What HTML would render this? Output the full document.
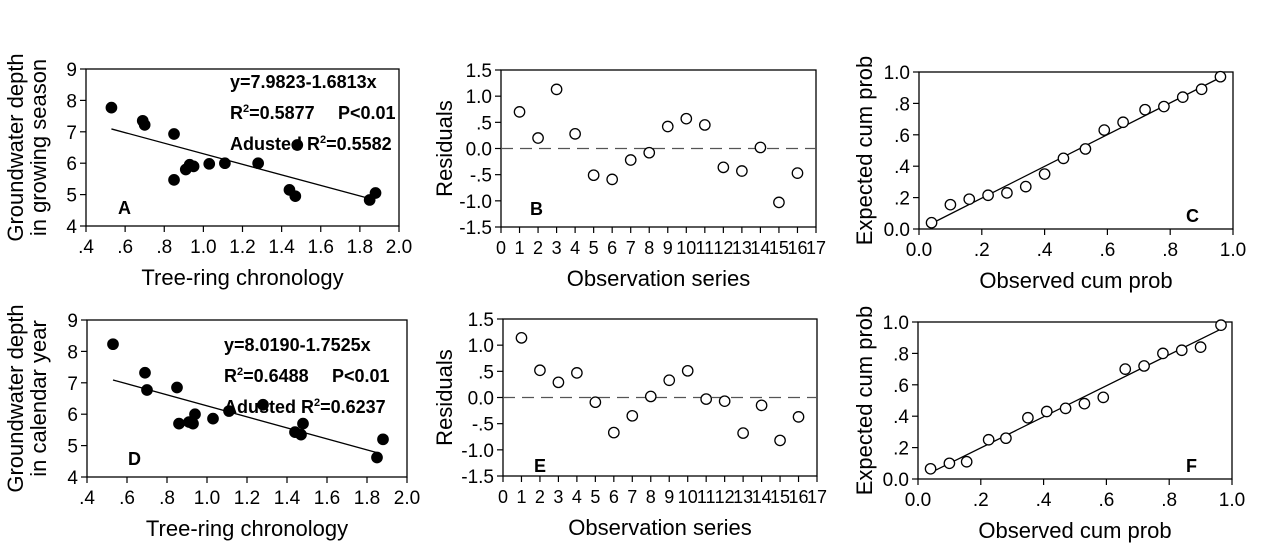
<!DOCTYPE html>
<html><head><meta charset="utf-8"><style>
html,body{margin:0;padding:0;background:#fff}
svg{display:block;font-family:"Liberation Sans",Arial,sans-serif}
</style></head><body>
<svg id="fig" width="1269" height="546" viewBox="0 0 1269 546"></svg>
<script>
// Panel A / D data (tree-ring vs groundwater)
const ringA = [0.53,0.69,0.70,0.85,0.85,0.91,0.93,0.95,1.03,1.11,1.28,1.44,1.47,1.48,1.85,1.88];
const depthA = [7.77,7.35,7.22,6.93,5.47,5.80,5.95,5.90,5.98,6.00,6.00,5.15,4.95,6.58,4.83,5.05];
const ringD = [0.53,0.69,0.70,0.85,0.86,0.91,0.93,0.94,1.03,1.11,1.28,1.44,1.47,1.48,1.85,1.88];
const depthD = [8.23,7.32,6.77,6.85,5.70,5.75,5.70,6.00,5.86,6.10,6.30,5.43,5.35,5.70,4.62,5.20];
const fitA = [7.9823,-1.6813];
const fitD = [8.0190,-1.7525];
// Residuals
const obsSeries = [1,2,3,4,5,6,7,8,9,10,11,12,13,14,15,16];
const residB = [0.70,0.20,1.13,0.28,-0.51,-0.59,-0.22,-0.08,0.42,0.57,0.45,-0.36,-0.43,0.02,-1.03,-0.47];
const residE = [1.14,0.52,0.29,0.47,-0.09,-0.67,-0.35,0.02,0.33,0.51,-0.03,-0.07,-0.68,-0.15,-0.82,-0.37];
// P-P plots
const obsC = [0.04,0.10,0.16,0.22,0.28,0.34,0.40,0.46,0.53,0.59,0.65,0.72,0.78,0.84,0.90,0.96];
const expC = [0.04,0.155,0.19,0.215,0.23,0.27,0.35,0.45,0.51,0.63,0.68,0.76,0.78,0.84,0.89,0.97];
const obsF = [0.04,0.10,0.155,0.225,0.28,0.35,0.41,0.47,0.53,0.59,0.66,0.72,0.78,0.84,0.90,0.965];
const expF = [0.065,0.10,0.11,0.25,0.26,0.39,0.43,0.45,0.48,0.52,0.70,0.72,0.80,0.82,0.84,0.98];
// Tick labels
const ringTicks = [0.4,0.6,0.8,1.0,1.2,1.4,1.6,1.8,2.0];
const ringTickLabels = [".4",".6",".8","1.0","1.2","1.4","1.6","1.8","2.0"];
const depthTicks = [4,5,6,7,8,9];
const seriesTicks = [0,1,2,3,4,5,6,7,8,9,10,11,12,13,14,15,16,17];
const residTicks = [-1.5,-1.0,-0.5,0,0.5,1.0,1.5];
const residTickLabels = ["-1.5","-1.0","-.5","0.0",".5","1.0","1.5"];
const probTicks = [0,0.2,0.4,0.6,0.8,1.0];
const probTickLabels = ["0.0",".2",".4",".6",".8","1.0"];

const NS="http://www.w3.org/2000/svg";
const svg=document.getElementById('fig');
function mk(tag,attrs,parent,name,text){
  const e=document.createElementNS(NS,tag);
  for(const k in attrs)e.setAttribute(k,attrs[k]);
  
  
  if(text!==undefined)e.textContent=text;
  parent.appendChild(e);return e;
}
function panel(o){
  const g=mk('g',{},svg,'panel-'+o.id);
  const sx=v=>o.L+(v-o.xmin)/(o.xmax-o.xmin)*(o.R-o.L);
  const sy=v=>o.B-(v-o.ymin)/(o.ymax-o.ymin)*(o.B-o.T);
  mk('rect',{x:o.L,y:o.T,width:o.R-o.L,height:o.B-o.T,fill:'none',stroke:'#000','stroke-width':1.3},g,'plot-frame');
  o.xt.forEach((t,i)=>{
    mk('line',{x1:sx(t),x2:sx(t),y1:o.B,y2:o.B+6,stroke:'#000','stroke-width':1.2},g,'x-tick');
    mk('text',{x:sx(t),y:o.B+27,'font-size':o.xfs||19,'text-anchor':'middle'},g,'x-tick-label',o.xl[i]);
  });
  o.yt.forEach((t,i)=>{
    mk('line',{x1:o.L-6,x2:o.L,y1:sy(t),y2:sy(t),stroke:'#000','stroke-width':1.2},g,'y-tick');
    mk('text',{x:o.L-9,y:sy(t)+7,'font-size':19,'text-anchor':'end'},g,'y-tick-label',o.yl[i]);
  });
  mk('text',{x:(o.L+o.R)/2,y:o.B+59,'font-size':22,'text-anchor':'middle'},g,'x-axis-title',o.xtitle);
  o.ytitle.forEach((s,i)=>{
    const x=o.ytx+i*23, y=(o.T+o.B)/2;
    mk('text',{x:x,y:y,'font-size':22,'text-anchor':'middle',transform:`rotate(-90 ${x} ${y})`},g,'y-axis-title',s);
  });
  if(o.hline!==undefined)
    mk('line',{x1:o.L,x2:o.R,y1:sy(o.hline),y2:sy(o.hline),stroke:'#555','stroke-width':1.3,'stroke-dasharray':'12 7'},g,'zero-reference-line');
  if(o.line)
    mk('line',{x1:sx(o.line[0]),y1:sy(o.line[1]),x2:sx(o.line[2]),y2:sy(o.line[3]),stroke:'#000','stroke-width':1.3},g,'fit-line');
  o.xs.forEach((x,i)=>{
    mk('circle',{cx:sx(x),cy:sy(o.ys[i]),r:5.2,fill:o.filled?'#000':'#fff',stroke:'#000','stroke-width':1.3},g,'data-point');
  });
  mk('text',{x:o.lab[0],y:o.lab[1],'font-size':18,'font-weight':'bold'},g,'panel-label',o.id);
  if(o.ann){
    const t=mk('g',{},g,'regression-annotation');
    mk('text',{x:o.ann[0],y:o.ann[1],'font-size':18,'font-weight':'bold'},t,'equation-text',o.annT[0]);
    const r=mk('text',{x:o.ann[0],y:o.ann[1]+31,'font-size':18,'font-weight':'bold'},t,'r-squared-text');
    r.innerHTML='R<tspan dy="-7" font-size="11">2</tspan><tspan dy="7">='+o.annT[1]+'</tspan>';
    mk('text',{x:o.ann[0]+108,y:o.ann[1]+31,'font-size':18,'font-weight':'bold'},t,'p-value-text','P<0.01');
    const a=mk('text',{x:o.ann[0],y:o.ann[1]+62,'font-size':18,'font-weight':'bold'},t,'adjusted-r-squared-text');
    a.innerHTML='Adusted R<tspan dy="-7" font-size="11">2</tspan><tspan dy="7">='+o.annT[2]+'</tspan>';
  }
}
const lineFrom=(f,a,b)=>[a,f[0]+f[1]*a,b,f[0]+f[1]*b];
panel({id:'A',L:86,R:399,T:69,B:226,xmin:0.4,xmax:2.0,ymin:4,ymax:9,xt:ringTicks,xl:ringTickLabels,yt:depthTicks,yl:depthTicks.map(String),
  xtitle:'Tree-ring chronology',ytitle:['Groundwater depth','in growing season'],ytx:23,xs:ringA,ys:depthA,filled:true,
  line:lineFrom(fitA,0.53,1.87),lab:[118,214],ann:[230,88],annT:['y=7.9823-1.6813x','0.5877','0.5582']});
panel({id:'D',L:87,R:407,T:320,B:477,xmin:0.4,xmax:2.0,ymin:4,ymax:9,xt:ringTicks,xl:ringTickLabels,yt:depthTicks,yl:depthTicks.map(String),
  xtitle:'Tree-ring chronology',ytitle:['Groundwater depth','in calendar year'],ytx:23,xs:ringD,ys:depthD,filled:true,
  line:lineFrom(fitD,0.53,1.87),lab:[128,465],ann:[224,351],annT:['y=8.0190-1.7525x','0.6488','0.6237']});
panel({id:'B',L:501,R:816,T:70,B:227,xmin:0,xmax:17,ymin:-1.5,ymax:1.5,xt:seriesTicks,xl:seriesTicks.map(String),yt:residTicks,yl:residTickLabels,xfs:18,
  xtitle:'Observation series',ytitle:['Residuals'],ytx:452,xs:obsSeries,ys:residB,hline:0,lab:[530,215]});
panel({id:'E',L:503,R:817,T:319,B:476,xmin:0,xmax:17,ymin:-1.5,ymax:1.5,xt:seriesTicks,xl:seriesTicks.map(String),yt:residTicks,yl:residTickLabels,xfs:18,
  xtitle:'Observation series',ytitle:['Residuals'],ytx:452,xs:obsSeries,ys:residE,hline:0,lab:[534,472]});
panel({id:'C',L:919,R:1233,T:72,B:229,xmin:0,xmax:1,ymin:0,ymax:1,xt:probTicks,xl:probTickLabels,yt:probTicks,yl:probTickLabels,
  xtitle:'Observed cum prob',ytitle:['Expected cum prob'],ytx:872,xs:obsC,ys:expC,line:[0.04,0.035,0.96,0.965],lab:[1186,222]});
panel({id:'F',L:918,R:1232,T:322,B:479,xmin:0,xmax:1,ymin:0,ymax:1,xt:probTicks,xl:probTickLabels,yt:probTicks,yl:probTickLabels,
  xtitle:'Observed cum prob',ytitle:['Expected cum prob'],ytx:872,xs:obsF,ys:expF,line:[0.04,0.04,0.97,0.96],lab:[1186,472]});
</script>
</body></html>
